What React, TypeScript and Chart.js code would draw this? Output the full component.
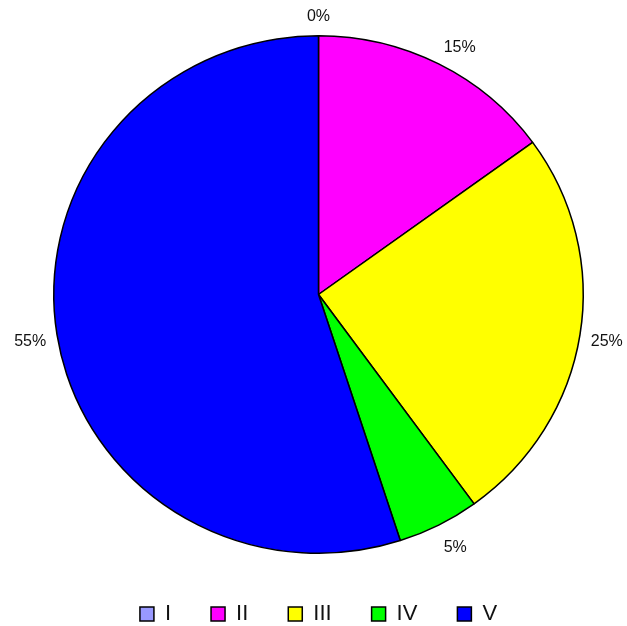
import React, { useEffect, useRef } from "react";
import { Chart, registerables } from "chart.js";

Chart.register(...registerables);

const categories = ["I", "II", "III", "IV", "V"];
const values = [0, 15, 25, 5, 55];
const colors = ["#9999ff", "#ff00ff", "#ffff00", "#00ff00", "#0000ff"];

const X_STRETCH = 266 / 260;
const LABEL_FONT = "16px 'Liberation Sans', Arial, sans-serif";

const stretchPlugin = {
  id: "stretch",
  beforeDatasetsDraw(chart: any) {
    const meta = chart.getDatasetMeta(0);
    const a = meta.data[0];
    if (!a) return;
    const ctx = chart.ctx;
    ctx.save();
    ctx.translate(a.x, a.y);
    ctx.scale(X_STRETCH, 1);
    ctx.translate(-a.x, -a.y);
  },
  afterDatasetsDraw(chart: any) {
    if (chart.getDatasetMeta(0).data[0]) chart.ctx.restore();
  },
};

const legendShiftPlugin = {
  id: "legendShift",
  afterLayout(chart: any) {
    if (chart.legend) {
      chart.legend.top += 9;
      chart.legend.bottom += 9;
    }
  },
};

const labelPlugin = {
  id: "outsideLabels",
  afterDatasetsDraw(chart: any) {
    const ctx = chart.ctx;
    const meta = chart.getDatasetMeta(0);
    const data = chart.data.datasets[0].data as number[];
    const total = data.reduce((a, b) => a + b, 0);
    ctx.save();
    ctx.font = LABEL_FONT;
    ctx.fillStyle = "#111";
    ctx.textAlign = "center";
    ctx.textBaseline = "middle";
    meta.data.forEach((arc: any, i: number) => {
      const { x, y, startAngle, endAngle, outerRadius } = arc.getProps(
        ["x", "y", "startAngle", "endAngle", "outerRadius"],
        true
      );
      const mid = (startAngle + endAngle) / 2;
      const c = Math.cos(mid);
      const s = Math.sin(mid);
      const g = 11;
      const ax = x + c * (outerRadius * X_STRETCH + g);
      const ay = y + s * (outerRadius + g);
      const pct = Math.round((data[i] / total) * 100) + "%";
      const hw = ctx.measureText(pct).width / 2;
      const k = Math.max(-1, Math.min(1, c * 3));
      ctx.fillText(pct, ax + k * hw, ay + s * 10.8 + 2.8);
    });
    ctx.restore();
  },
};

export default function App() {
  const ref = useRef<HTMLCanvasElement | null>(null);
  useEffect(() => {
    document.body.style.margin = "0";
    const chart = new Chart(ref.current as HTMLCanvasElement, {
      type: "pie",
      data: {
        labels: categories,
        datasets: [
          {
            data: values,
            backgroundColor: colors,
            borderColor: "#000",
            borderWidth: 1.5,
          },
        ],
      },
      options: {
        animation: false,
        responsive: false,
        layout: { padding: { top: 35, bottom: 0, left: 50, right: 40 } },
        plugins: {
          tooltip: { enabled: false },
          legend: {
            position: "bottom",
            labels: {
              boxWidth: 14,
              boxHeight: 14,
              padding: 40,
              color: "#111",
              font: { size: 22, family: "'Liberation Sans', Arial, sans-serif" },
            },
          },
        },
      },
      plugins: [stretchPlugin, labelPlugin, legendShiftPlugin],
    });
    return () => chart.destroy();
  }, []);
  return (
    <div style={{ width: 627, height: 626 }}>
      <canvas ref={ref} width={627} height={626} style={{ display: "block" }} />
    </div>
  );
}
